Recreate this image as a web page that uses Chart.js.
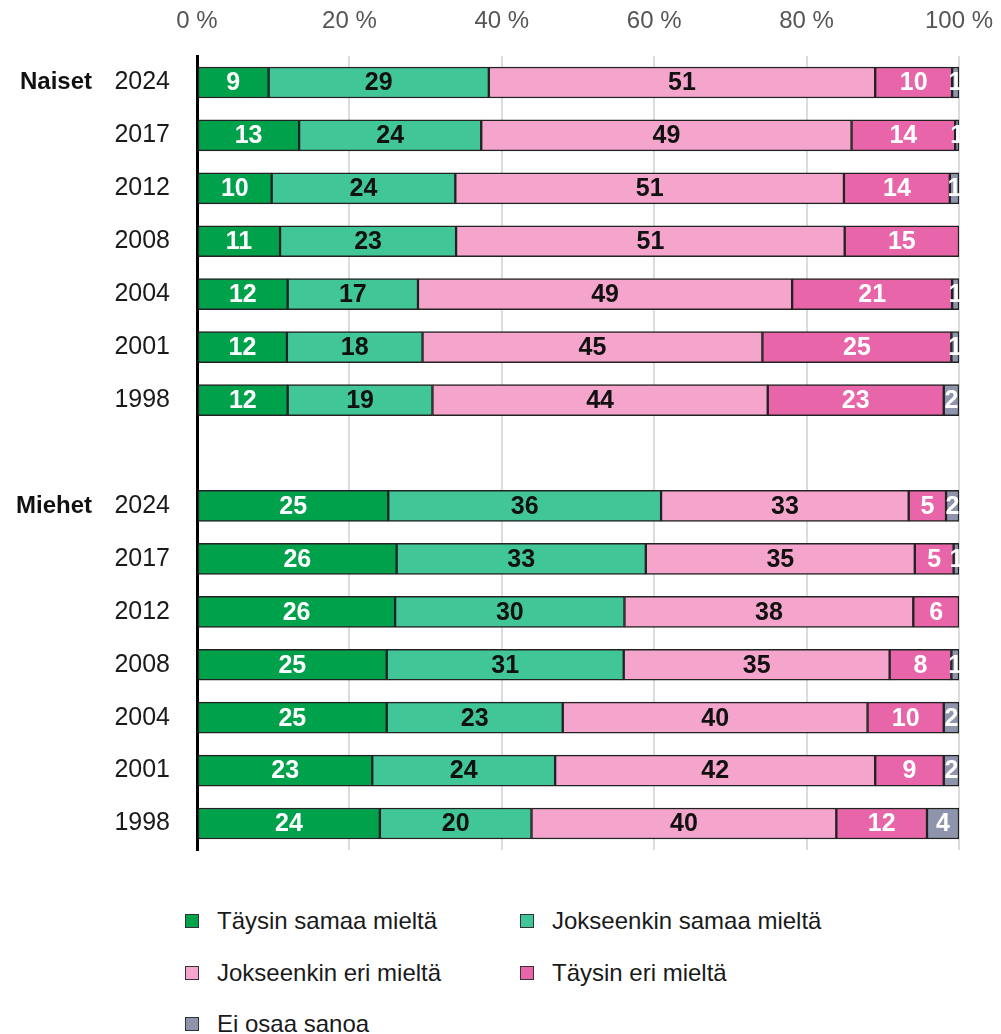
<!DOCTYPE html>
<html lang="fi">
<head>
<meta charset="utf-8">
<script src="https://cdn.jsdelivr.net/npm/chart.js@4"></script>
<style>
  body { margin: 0; background: #fff; font-family: "Liberation Sans", Arial, sans-serif; }
  #wrap { position: relative; width: 1001px; height: 1034px; }
  #c { position: absolute; left: 0; top: 0; }
  .item { position: absolute; height: 30px; line-height: 30px; display: flex; align-items: center;
          font-size: 24px; color: #1a1a1a; white-space: nowrap; }
  .box { width: 12px; height: 12px; border: 1.5px solid #333; margin-right: 18px; }
</style>
</head>
<body>
<div id="wrap">
  <canvas id="c" width="1001" height="870"></canvas>
  <div id="legend"></div>
</div>
<script>
  const years = ['2024', '2017', '2012', '2008', '2004', '2001', '1998'];
  const groups = ['Naiset', 'Miehet'];
  const seriesNames = ['Täysin samaa mieltä', 'Jokseenkin samaa mieltä', 'Jokseenkin eri mieltä', 'Täysin eri mieltä', 'Ei osaa sanoa'];
  const xTicks = [0, 20, 40, 60, 80, 100];

  // Naiset, years 2024 -> 1998 (%)
  const naisetTaysinSamaa     = [9.4, 13.4, 9.8, 10.9, 11.9, 11.8, 11.9];
  const naisetJokseenkinSamaa = [28.9, 23.9, 24.1, 23.1, 17.1, 17.8, 19.0];
  const naisetJokseenkinEri   = [50.7, 48.6, 51.0, 51.0, 49.1, 44.6, 44.0];
  const naisetTaysinEri       = [10.1, 13.6, 13.9, 15.0, 21.0, 24.8, 23.1];
  const naisetEiOsaa          = [0.9, 0.5, 1.2, 0, 0.9, 1.0, 2.0];

  // Miehet, years 2024 -> 1998 (%)
  const miehetTaysinSamaa     = [25.1, 26.2, 26.0, 24.9, 24.9, 23.0, 24.0];
  const miehetJokseenkinSamaa = [35.8, 32.7, 30.1, 31.1, 23.1, 24.0, 19.9];
  const miehetJokseenkinEri   = [32.5, 35.3, 37.9, 34.9, 40.0, 42.0, 40.0];
  const miehetTaysinEri       = [4.9, 5.1, 6.0, 8.1, 10.0, 9.0, 11.9];
  const miehetEiOsaa          = [1.7, 0.7, 0, 1.0, 2.0, 2.0, 4.2];

  const colors = ['#00a14b', '#41c797', '#f5a5cc', '#e765a8', '#8f94ad'];
  const labelColors = ['#fff', '#111', '#111', '#fff', '#fff'];
  const FONT = '"Liberation Sans", Arial, sans-serif';

  const naiset = [naisetTaysinSamaa, naisetJokseenkinSamaa, naisetJokseenkinEri, naisetTaysinEri, naisetEiOsaa];
  const miehet = [miehetTaysinSamaa, miehetJokseenkinSamaa, miehetJokseenkinEri, miehetTaysinEri, miehetEiOsaa];

  // one empty row between the two groups
  const labels = [...years, '', ...years];

  const datasets = seriesNames.map((name, i) => ({
    label: name,
    data: [...naiset[i], null, ...miehet[i]],
    backgroundColor: colors[i],
    borderColor: '#222',
    borderWidth: 1.5,
    borderSkipped: false,
    barThickness: 31
  }));

  const noPad = s => { s.paddingLeft = 0; s.paddingRight = 0; s.paddingTop = 0; s.paddingBottom = 0; };

  const valueLabels = {
    id: 'valueLabels',
    afterDatasetsDraw(chart) {
      const ctx = chart.ctx;
      const a = chart.chartArea;
      ctx.save();
      ctx.beginPath();
      ctx.rect(a.left, a.top, a.right - a.left + 1, a.bottom - a.top);
      ctx.clip();
      ctx.font = 'bold 25px ' + FONT;
      ctx.textAlign = 'center';
      ctx.textBaseline = 'middle';
      chart.data.datasets.forEach((ds, i) => {
        chart.getDatasetMeta(i).data.forEach((bar, j) => {
          const v = ds.data[j];
          if (!v) return;
          ctx.fillStyle = labelColors[i];
          ctx.fillText(Math.round(v), (bar.x + bar.base) / 2, bar.y + 1);
        });
      });
      ctx.restore();
    }
  };

  const groupLabels = {
    id: 'groupLabels',
    afterDraw(chart) {
      const ctx = chart.ctx;
      const y = chart.scales.y;
      ctx.save();
      ctx.font = 'bold 24px ' + FONT;
      ctx.fillStyle = '#111';
      ctx.textAlign = 'right';
      ctx.textBaseline = 'middle';
      groups.forEach((g, k) => ctx.fillText(g, 92, y.getPixelForValue(k * (years.length + 1))));
      ctx.restore();
    }
  };

  new Chart(document.getElementById('c'), {
    type: 'bar',
    data: { labels, datasets },
    options: {
      indexAxis: 'y',
      responsive: false,
      animation: false,
      layout: { padding: { left: 0, right: 42, top: 0, bottom: 20 } },
      plugins: { legend: { display: false }, tooltip: { enabled: false } },
      scales: {
        x: {
          position: 'top',
          stacked: true,
          min: 0,
          max: 100,
          afterBuildTicks: s => { s.ticks = xTicks.map(v => ({ value: v })); },
          afterFit: s => { s.height = 56; noPad(s); },
          border: { display: false },
          grid: {
            drawTicks: false,
            lineWidth: 2,
            color: c => (c.tick && c.tick.value === 0) ? 'rgba(0,0,0,0)' : '#dcdcdc'
          },
          ticks: {
            padding: 20,
            color: '#555',
            font: { family: FONT, size: 24 },
            callback: v => v + ' %'
          }
        },
        y: {
          stacked: true,
          afterFit: s => { s.width = 197; noPad(s); },
          grid: { display: false, drawTicks: false },
          border: { display: true, color: '#000', width: 3 },
          ticks: {
            padding: 27,
            color: '#1a1a1a',
            font: { family: FONT, size: 25 }
          }
        }
      }
    },
    plugins: [valueLabels, groupLabels]
  });

  // legend, two columns
  const legendPos = [[185, 921], [520, 921], [185, 973], [520, 973], [185, 1024]];
  const legend = document.getElementById('legend');
  seriesNames.forEach((name, i) => {
    const el = document.createElement('div');
    el.className = 'item';
    el.style.left = legendPos[i][0] + 'px';
    el.style.top = (legendPos[i][1] - 15) + 'px';
    el.innerHTML = `<span class="box" style="background:${colors[i]}"></span><span>${name}</span>`;
    legend.appendChild(el);
  });
</script>
</body>
</html>
